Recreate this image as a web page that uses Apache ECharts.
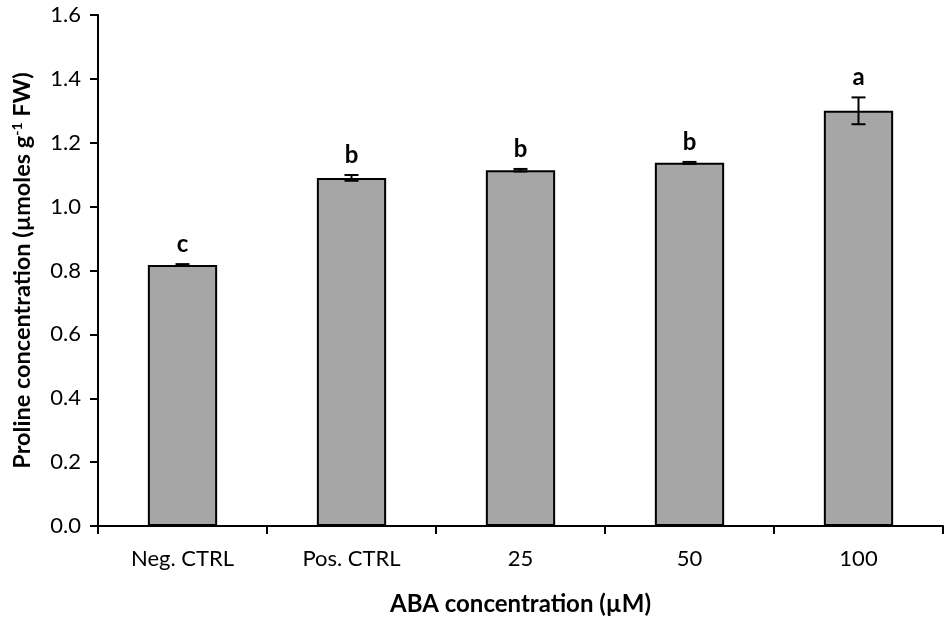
<!DOCTYPE html>
<html>
<head>
<meta charset="utf-8">
<script src="https://cdn.jsdelivr.net/npm/echarts@6/dist/echarts.min.js"></script>
<style>html,body{margin:0;padding:0;background:#fff}#c{width:950px;height:618px}</style>
</head>
<body>
<div id="c"></div>
<script>
var categories = ['Neg. CTRL', 'Pos. CTRL', '25', '50', '100'];
var values = [0.817, 1.090, 1.114, 1.137, 1.300];
var errors = [0.003, 0.009, 0.004, 0.003, 0.042];
var letters = ['c', 'b', 'b', 'b', 'a'];
var yTicks = [0, 0.2, 0.4, 0.6, 0.8, 1.0, 1.2, 1.4, 1.6];

var FONT = 'Lato, "Open Sans", sans-serif';
var chart = echarts.init(document.getElementById('c'), null, {renderer: 'canvas'});
var errData = values.map(function (v, i) { return [i, v, errors[i], letters[i]]; });

chart.setOption({
  animation: false,
  grid: {left: 98, right: 7, top: 15, bottom: 92, outerBoundsMode: 'none', containLabel: false},
  xAxis: {
    type: 'category',
    data: categories,
    axisLine: {lineStyle: {color: '#000', width: 2}},
    axisTick: {show: true, length: 8, lineStyle: {color: '#000', width: 2}},
    axisLabel: {color: '#000', fontSize: 22, fontFamily: FONT, margin: 22},
    name: 'ABA concentration (µM)',
    nameLocation: 'middle',
    nameGap: 66,
    nameTextStyle: {color: '#000', fontSize: 24, fontWeight: 'bold', fontFamily: FONT}
  },
  yAxis: {
    type: 'value',
    min: 0, max: 1.6, interval: 0.2,
    axisLine: {show: true, lineStyle: {color: '#000', width: 2}},
    axisTick: {show: true, length: 8, lineStyle: {color: '#000', width: 2}},
    splitLine: {show: false},
    axisLabel: {color: '#000', fontSize: 22, fontFamily: FONT, margin: 17,
      formatter: function (v) { return v.toFixed(1); }},
    name: '{t|Proline concentration (µmoles g}{s|-1}{t| FW)}',
    nameLocation: 'middle',
    nameGap: 64,
    nameRotate: 90,
    nameTextStyle: {
      rich: {
        t: {color: '#000', fontSize: 23.5, fontWeight: 'bold', fontFamily: FONT},
        s: {color: '#000', fontSize: 14, fontWeight: 'bold', fontFamily: FONT, verticalAlign: 'top', padding: [0, 0, 9, 0]}
      }
    }
  },
  series: [
    {
      type: 'bar',
      data: values,
      barWidth: '41%',
      itemStyle: {color: '#a6a6a6', borderColor: '#000', borderWidth: 2}
    },
    {
      type: 'custom',
      data: errData,
      z: 10,
      renderItem: function (params, api) {
        var i = api.value(0), v = api.value(1), e = api.value(2);
        var top = api.coord([i, v + e]);
        var bot = api.coord([i, v - e]);
        var hw = 7;
        return {
          type: 'group',
          children: [
            {type: 'line', shape: {x1: top[0], y1: top[1], x2: bot[0], y2: bot[1]}, style: {stroke: '#000', lineWidth: 2}},
            {type: 'line', shape: {x1: top[0] - hw, y1: top[1], x2: top[0] + hw, y2: top[1]}, style: {stroke: '#000', lineWidth: 2}},
            {type: 'line', shape: {x1: bot[0] - hw, y1: bot[1], x2: bot[0] + hw, y2: bot[1]}, style: {stroke: '#000', lineWidth: 2}},
            {type: 'text', style: {text: letters[params.dataIndex], x: top[0], y: top[1] - 20,
              align: 'center', verticalAlign: 'middle', fill: '#000',
              font: 'bold 24px ' + FONT}}
          ]
        };
      }
    }
  ]
});
</script>
</body>
</html>
